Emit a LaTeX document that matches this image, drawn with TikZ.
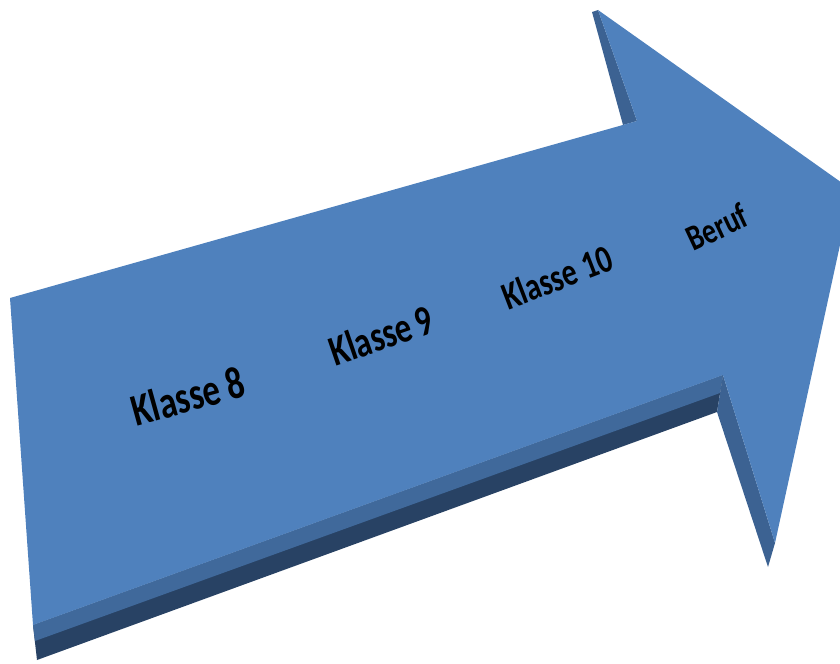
\documentclass[tikz,border=0pt]{standalone}
\usepackage{fontspec}
\setmainfont{Carlito}
\definecolor{faceblue}{RGB}{79,129,189}
\definecolor{bevelblue}{RGB}{64,105,155}
\definecolor{sideblue}{RGB}{60,98,146}
\definecolor{darkblue}{RGB}{40,66,100}
\begin{document}
\begin{tikzpicture}[x=0.025cm,y=-0.025cm,
    stagetext/.style={text=black, inner sep=0pt, rotate=#1, yscale=1.3}]

    \useasboundingbox (0,0) rectangle (840,663);
    \clip (0,0) rectangle (840,663);

    % front face corners
    \coordinate (tail-top) at (10,298);
    \coordinate (notch-top) at (637,121);
    \coordinate (barb-top) at (598,10);
    \coordinate (tip) at (852,190);
    \coordinate (barb-bot) at (775,543);
    \coordinate (notch-bot) at (723,375);
    \coordinate (tail-bot) at (33,625);
    % back edges
    \coordinate (barb-top-b) at (592,12);
    \coordinate (notch-top-b) at (623,125);
    \coordinate (notch-bot-m) at (720,393);
    \coordinate (notch-bot-b) at (717,412);
    \coordinate (barb-bot-b) at (768,567);
    \coordinate (tail-bot-m) at (35,641);
    \coordinate (tail-bot-b) at (37,660);

    % sides
    \fill[darkblue] (tail-bot) -- (notch-bot) -- (notch-bot-b) -- (tail-bot-b) -- cycle;
    \fill[bevelblue] (tail-bot) -- (notch-bot) -- (notch-bot-m) -- (tail-bot-m) -- cycle;
    \fill[sideblue] (notch-bot) -- (barb-bot) -- (barb-bot-b) -- (notch-bot-b) -- cycle;
    \fill[sideblue] (barb-top) -- (notch-top) -- (notch-top-b) -- (barb-top-b) -- cycle;

    % face
    \fill[faceblue] (tail-top) -- (notch-top) -- (barb-top) -- (tip) -- (barb-bot)
        -- (notch-bot) -- (tail-bot) -- cycle;

    \node(klasse-8)[stagetext=15.5, font=\bfseries\fontsize{24.8}{28}\selectfont] at (188,396) {Klasse 8};
    \node(klasse-9)[stagetext=19, font=\bfseries\fontsize{23.4}{27}\selectfont] at (381,335) {Klasse\,9};
    \node(klasse-10)[stagetext=21, font=\bfseries\fontsize{21.3}{25}\selectfont] at (557,277) {Klasse 10};
    \node(beruf)[stagetext=25, font=\bfseries\fontsize{19.8}{23}\selectfont] at (717,227) {Beruf};
  \end{tikzpicture}
\end{document}
